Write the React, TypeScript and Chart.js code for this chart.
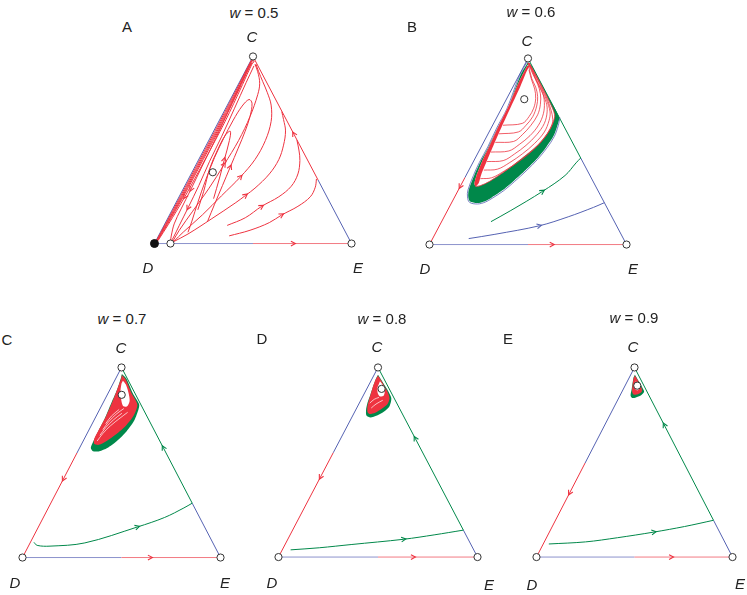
import React, { useEffect, useRef } from 'react';
import { Chart, registerables } from 'chart.js';
Chart.register(...registerables);

type P = [number, number];

const RED = '#ee3340';
const GREEN = '#00884a';
const BLUE = '#5562b2';
const BASE_BLUE_C = '#8c92cc';
const BASE_RED_C = '#f27a83';
const WHITE = '#ffffff';

// ---- text ----
const PANEL_LETTERS = ['A', 'B', 'C', 'D', 'E'];
const W_VALUES = ['0.5', '0.6', '0.7', '0.8', '0.9'];
const VERTEX_LABELS = ['C', 'D', 'E'];

// ---- shared edges (ternary plane: D=(0,0), E=(100,0), C=(50,100)) ----
const BASE_BLUE_PTS: P[] = [[0, 0], [50, 0]];
const BASE_RED_PTS: P[] = [[50, 0], [100, 0]];

// ---- Panel A (w = 0.5) ----
const A_LEFT_BLUE: P[] = [[0, 0], [50, 100]];
const A_RIGHT_RED: P[] = [[83, 34], [50, 100]];
const A_RIGHT_BLUE: P[] = [[83, 34], [100, 0]];
const A_B1: P[] = [[50, 99], [48.7, 97], [42.9, 85], [33.1, 65], [23.1, 45], [13.05, 25], [5.35, 10], [0.95, 1.5]];
const A_B2: P[] = [[50.2, 98.6], [48.85, 97], [43.35, 85], [33.7, 65], [23.7, 45], [13.6, 25], [5.7, 10], [1.1, 1.5]];
const A_B3: P[] = [[50.4, 98.2], [49.0, 97], [43.7, 85], [34.25, 65], [24.25, 45], [14.1, 25], [6.05, 10], [1.25, 1.5]];
const A_B4: P[] = [[50.6, 97.8], [49.2, 96.5], [44.1, 85], [34.8, 65], [24.8, 45], [14.6, 25], [6.4, 10], [1.45, 1.5]];
const A_B5: P[] = [[50.8, 97.4], [49.5, 96], [44.7, 85], [35.7, 65], [25.7, 45], [15.4, 25], [6.9, 10], [1.75, 1.5]];
const A_L1: P[] = [[30, 24], [33, 35], [35.5, 45], [38, 55], [38.5, 60], [36, 58], [32, 50], [28, 40], [25, 28], [22, 18]];
const A_L2: P[] = [[27, 12], [30.5, 21], [34.5, 31], [38.5, 41], [42.5, 51], [46, 60], [48.5, 68], [49.5, 75], [48, 77], [44.5, 73.5], [40, 66], [35, 56], [30.5, 46], [26, 34], [22, 22], [19, 12], [17, 6]];
const A_L3: P[] = [[49.3, 96.5], [44.6, 87], [38, 72], [31, 56], [24.5, 42], [18.5, 29], [13.5, 18.5], [10, 10.5], [8.5, 4], [8.1, 1]];
const A_L4: P[] = [[50.5, 95], [46.5, 86], [40.5, 72], [34, 57], [28, 44], [22.5, 31], [17, 19], [12.5, 9.5], [9.5, 3], [8.3, 1]];
const A_K1: P[] = [[37.9, 4.1], [48.5, 7.1], [58.3, 11.2], [64.6, 15.3], [72.8, 19.9], [79.1, 25.0], [81.6, 30.1], [82.2, 34.5]];
const A_K2: P[] = [[36.9, 9.7], [46.1, 13.8], [54.4, 19.9], [63.1, 25.0], [69.4, 30.6], [72.8, 37.2], [73.8, 44.4], [73.3, 50.0], [72.3, 55.2]];
const A_K3: P[] = [[9.7, 1.0], [17.0, 5.1], [29.1, 13.3], [41.3, 21.9], [46.3, 25.8], [51.0, 29.6], [58.3, 37.2], [63.1, 44.9], [65.5, 52.6], [66.5, 60.2], [65.5, 66.3], [64.6, 70.5]];
const A_K4: P[] = [[9.7, 1.0], [14.6, 6.1], [24.3, 15.3], [34.0, 25.5], [43.7, 35.7], [51.0, 44.9], [56.3, 55.1], [59.2, 65.3], [59.2, 74.0], [57.3, 80.6], [54.9, 86.7], [52.9, 91.8], [51.5, 95.9]];
const A_K5: P[] = [[9.2, 1.0], [12.6, 7.1], [19.4, 17.3], [27.7, 29.6], [35.4, 42.3], [42.7, 55.1], [48.5, 67.9], [52.4, 79.6], [53.4, 85.7], [52.4, 91.8], [51.0, 95.9]];
const A_OPEN: P[] = [[50, 100], [100, 0], [8.1, 0], [29.6, 38.1]];
const A_FILLED: P[] = [[0, 0]];

// ---- Panel B (w = 0.6) ----
const B_LEFT_RED: P[] = [[18, 36], [0, 0]];
const B_LEFT_BLUE: P[] = [[18, 36], [50, 100]];
const B_RIGHT_GREEN: P[] = [[50, 100], [76.75, 46.5]];
const B_RIGHT_BLUE: P[] = [[76.75, 46.5], [100, 0]];
const B_GREEN_TRAJ: P[] = [[31.2, 12.3], [41.3, 18.3], [57.4, 28.6], [68.8, 37.1], [74.4, 43.9], [76.75, 46.5]];
const B_BLUE_TRAJ: P[] = [[19.9, 3.2], [33.2, 5.5], [55.8, 10.1], [70.4, 14.9], [83.3, 20.0], [88.75, 22.5]];
const B_GREEN_BLOB: P[] = [[50.0, 97.9], [46.1, 90.8], [39.7, 73.0], [34.5, 62.6], [30.0, 52.5], [25.7, 44.1], [22.7, 37.1], [19.9, 29.2], [19.7, 25.6], [20.6, 23.1], [24.3, 22.3], [28.2, 23.3], [31.6, 25.3], [37.4, 29.4], [43.0, 34.4], [48.8, 40.0], [54.6, 46.2], [59.2, 52.3], [63.0, 58.4], [65.0, 64.3], [65.8, 68.4], [60, 80], [55, 90], [52, 96]];
const B_BLOB_EDGE: P[] = [[49.6, 98.3], [45.7, 90.8], [39.3, 73], [34.1, 62.6], [29.6, 52.5], [25.3, 44.1], [22.3, 37.1], [19.5, 29.2], [19.3, 25.6], [20.3, 22.7], [24.3, 21.8], [28.3, 22.8], [31.7, 24.8], [37.6, 28.9], [43.2, 33.9], [49.0, 39.5], [54.8, 45.7], [59.5, 51.8], [63.3, 58.0], [65.4, 64.1], [66.2, 68.2]];
const B_WHITE: P[] = [[49.5, 95.9], [45.1, 86.7], [40.3, 74.9], [35.0, 63.6], [30.6, 53.3], [26.7, 44.6], [23.8, 36.9], [22.8, 32.8], [23.4, 31.3], [25.7, 31.6], [30.6, 34.0], [36.4, 38.0], [42.7, 42.8], [49.2, 48.2], [55.3, 53.8], [59.9, 59.8], [62.6, 65.2], [63.5, 69.8], [61.0, 76.5], [57, 85], [53, 93], [50.6, 97.5]];
const B_BAND: P[] = [[49.5, 95.9], [45.1, 86.7], [40.3, 74.9], [35.0, 63.6], [30.6, 53.3], [26.7, 44.6], [23.8, 36.9], [22.8, 32.8], [23.4, 31.3], [25.0, 33.1], [26.2, 37.4], [29.0, 44.6], [32.3, 52.8], [36.6, 63.1], [41.5, 74.4], [46.0, 84.6], [49.2, 92.8], [50.8, 95.9]];
const B_S1: P[] = [[23.3, 31.3], [25.7, 31.6], [30.6, 34.0], [36.4, 38.0], [42.7, 42.8], [49.2, 48.2], [55.3, 53.8], [59.9, 59.8], [62.6, 65.2], [63.5, 69.8], [61.0, 76.5], [57, 85], [53, 93], [50.6, 97.5]];
const B_S2: P[] = [[25.8, 35.4], [31.6, 35.9], [37.9, 39.5], [44.7, 44.1], [51.5, 49.7], [57.3, 55.9], [61.2, 62.1], [62.6, 67.2], [60.2, 77], [56.3, 86], [52.6, 93.5], [50.5, 97.5]];
const B_S3: P[] = [[27.6, 40.0], [34.5, 40.5], [40.8, 44.1], [47.1, 48.7], [53.4, 54.4], [58.3, 60.5], [60.7, 66.7], [61.2, 71.3], [59.3, 78], [55.8, 86.5], [52.4, 93.5], [50.4, 97.5]];
const B_S4: P[] = [[29.2, 44.6], [37.4, 45.1], [43.2, 48.7], [49.0, 53.3], [54.4, 59.0], [58.3, 65.1], [59.7, 71.3], [59.2, 76.4], [55.3, 86], [52.2, 93.5], [50.3, 97.5]];
const B_S5: P[] = [[31.2, 49.7], [40.3, 50.3], [45.6, 53.8], [51.0, 58.5], [55.3, 64.1], [57.8, 70.3], [58.3, 76.4], [57.3, 82.1], [54.3, 88], [51.8, 94], [50.2, 97.5]];
const B_S6: P[] = [[33.4, 54.9], [42.7, 55.4], [47.1, 59.0], [51.5, 64.1], [54.9, 69.7], [56.3, 75.4], [56.3, 81.0], [54.9, 86.2], [52.5, 91.5], [50.1, 97.5]];
const B_S7: P[] = [[35.3, 59.5], [45.1, 60.5], [49.0, 64.1], [52.4, 68.7], [54.4, 74.4], [54.9, 79.5], [53.9, 84.6], [51.9, 89.2], [50.0, 97.5]];
const B_S8: P[] = [[37.3, 64.1], [47.1, 65.1], [50.5, 68.7], [52.9, 73.3], [53.9, 78.5], [53.4, 83.6], [51.9, 88.2], [50.5, 93.8]];
const B_OPEN: P[] = [[0, 0], [100, 0], [50, 100], [48.1, 78.1]];

// ---- Panel C (w = 0.7) ----
const C_LEFT_RED: P[] = [[27.5, 55], [0, 0]];
const C_LEFT_BLUE: P[] = [[27.5, 55], [50, 100]];
const C_RIGHT_GREEN: P[] = [[85.7, 28.6], [50, 100]];
const C_RIGHT_BLUE: P[] = [[85.7, 28.6], [100, 0]];
const C_GREEN_TRAJ: P[] = [[5.8, 8.0], [7.4, 6.4], [13.9, 6.0], [31.5, 7.7], [58.1, 16.1], [71.8, 21.1], [81.5, 26.1], [85.7, 28.6]];
const C_GREEN_BLOB: P[] = [[50.2, 96.5], [52.5, 94.0], [55.7, 86.4], [58.9, 80.6], [58.6, 78.0], [56.5, 72.2], [52.5, 66.3], [47.7, 61.3], [42.8, 57.6], [38.8, 55.9], [35.6, 55.9], [34.5, 57.6], [35.5, 60.5], [38.2, 66.3], [41.5, 73.0], [44.9, 81.4], [47.7, 88.1], [49.6, 94.0]];
const C_RED_BLOB: P[] = [[50.2, 96.0], [52.2, 93.5], [55.1, 86.4], [58.0, 80.4], [56.0, 74.4], [52.2, 69.3], [47.3, 64.8], [42.5, 61.3], [38.6, 59.3], [36.2, 59.8], [36.2, 62.3], [38.6, 67.3], [42.0, 73.9], [45.4, 81.9], [47.8, 88.4], [49.8, 94.0]];
const C_WHITE_IN: P[] = [[50.7, 93.0], [52.2, 91.0], [53.6, 86.4], [54.1, 82.4], [52.7, 79.4], [50.7, 79.9], [49.8, 83.4], [49.5, 87.9], [50.0, 91.5]];
const C_W1: P[] = [[37.7, 61.3], [40.6, 65.3], [44.4, 69.3], [49.3, 73.4], [53.1, 76.4]];
const C_W2: P[] = [[39.1, 64.3], [42.0, 68.3], [45.9, 72.4], [50.2, 75.9]];
const C_W3: P[] = [[40.6, 67.3], [43.5, 71.4], [47.3, 75.4], [51.2, 78.4]];
const C_W4: P[] = [[42.0, 70.4], [44.9, 74.4], [48.8, 77.9]];
const C_OPEN: P[] = [[0, 0], [100, 0], [50, 100], [50.1, 85.6]];

// ---- Panel D (w = 0.8) ----
const D_LEFT_RED: P[] = [[27.5, 55], [0, 0]];
const D_LEFT_BLUE: P[] = [[27.5, 55], [50, 100]];
const D_RIGHT_GREEN: P[] = [[92.9, 14.2], [50, 100]];
const D_RIGHT_BLUE: P[] = [[92.9, 14.2], [100, 0]];
const D_GREEN_TRAJ: P[] = [[6.1, 3.8], [20.5, 4.9], [36.5, 6.6], [63.0, 9.4], [78.2, 11.7], [92.9, 14.2]];
const D_GREEN_BLOB: P[] = [[50.0, 96.2], [52.4, 92.2], [55.3, 87.2], [56.7, 83.7], [55.8, 79.6], [52.9, 76.6], [49.5, 74.6], [46.2, 73.6], [44.2, 74.6], [44.0, 77.6], [44.7, 81.2], [46.2, 85.7], [47.6, 90.2], [49.0, 94.2]];
const D_RED_BLOB: P[] = [[50.0, 95.7], [52.4, 91.7], [54.8, 87.2], [55.8, 83.7], [54.8, 80.7], [51.9, 78.2], [48.6, 76.1], [45.7, 75.4], [44.7, 76.6], [44.7, 79.6], [45.7, 83.7], [47.1, 88.7], [48.6, 93.2]];
const D_WHITE_IN: P[] = [[51.0, 92.7], [52.4, 90.7], [53.4, 87.7], [52.9, 85.2], [51.0, 84.7], [49.8, 86.7], [49.8, 89.7]];
const D_W1: P[] = [[46.6, 78.6], [49.0, 80.7], [52.4, 82.7]];
const D_W2: P[] = [[45.9, 81.2], [48.1, 83.2], [50.5, 84.2]];
const D_OPEN: P[] = [[0, 0], [100, 0], [50, 100], [51.8, 88.7]];

// ---- Panel E (w = 0.9) ----
const E_LEFT_RED: P[] = [[24.8, 49.6], [0, 0]];
const E_LEFT_BLUE: P[] = [[24.8, 49.6], [50, 100]];
const E_RIGHT_GREEN: P[] = [[90.3, 19.4], [50, 100]];
const E_RIGHT_BLUE: P[] = [[90.3, 19.4], [100, 0]];
const E_GREEN_TRAJ: P[] = [[6.3, 6.9], [25.0, 8.0], [41.3, 10.2], [60.0, 13.2], [75.5, 16.1], [90.3, 19.4]];
const E_GREEN_BLOB: P[] = [[50.2, 96.2], [52.2, 92.7], [54.1, 89.2], [54.9, 87.2], [53.2, 85.2], [50.7, 84.2], [48.8, 83.9], [48.0, 85.2], [48.5, 88.2], [49.0, 91.7], [49.5, 94.7]];
const E_RED_BLOB: P[] = [[50.2, 95.7], [52.2, 92.2], [53.7, 88.9], [53.7, 87.2], [51.7, 85.9], [49.5, 85.7], [48.8, 87.2], [49.0, 90.7], [49.5, 94.2]];
const E_WHITE_IN: P[] = [[50.7, 92.7], [52.0, 91.2], [52.4, 89.2], [51.5, 87.9], [50.5, 88.7], [50.2, 91.2]];
const E_OPEN: P[] = [[0, 0], [100, 0], [50, 100], [51.4, 90.4]];

// ---- layout ----
type Layer = { pts: P[]; color: string; width?: number; fill?: boolean; tension?: number; arrows?: number[]; arrowColor?: string };
const mk = (pts: P[], color: string, extra: Partial<Layer> = {}): Layer => ({ pts, color, ...extra });
const poly = (pts: P[], color: string): Layer => ({ pts, color, fill: true, tension: 0.25 });

const edgeLayers = (baseArrow: number): Layer[] => [
  mk(BASE_BLUE_PTS, BASE_BLUE_C, { tension: 0 }),
  mk(BASE_RED_PTS, BASE_RED_C, { tension: 0, arrows: [baseArrow], arrowColor: RED }),
];

const PANELS = [
  {
    geom: { dx: 150, ex: 356, base: 248, top: 52 },
    letterPos: [127, 26], titlePos: [254, 12],
    labelPos: [[252, 36], [148, 267], [358, 267]],
    open: A_OPEN, filled: A_FILLED,
    layers: [
      ...edgeLayers(0.41),
      mk(A_LEFT_BLUE, BLUE, { tension: 0 }),
      mk(A_RIGHT_BLUE, BLUE, { tension: 0 }),
      mk(A_RIGHT_RED, RED, { tension: 0, arrows: [0.374] }),
      mk(A_B1, RED), mk(A_B2, RED), mk(A_B3, RED), mk(A_B4, RED), mk(A_B5, RED, { arrows: [5] }),
      mk(A_L1, RED, { arrows: [2] }), mk(A_L2, RED, { arrows: [3] }),
      mk(A_L3, RED, { arrows: [5] }), mk(A_L4, RED, { arrows: [6] }),
      mk(A_K1, RED, { arrows: [3] }), mk(A_K2, RED, { arrows: [2] }), mk(A_K3, RED, { arrows: [4] }),
      mk(A_K4, RED, { arrows: [4] }), mk(A_K5, RED, { arrows: [4] }),
    ],
  },
  {
    geom: { dx: 425, ex: 631, base: 249, top: 54 },
    letterPos: [412, 26], titlePos: [531, 11],
    labelPos: [[527, 40], [425, 268], [633, 268]],
    open: B_OPEN, filled: [] as P[],
    layers: [
      ...edgeLayers(0.246),
      mk(B_LEFT_BLUE, BLUE, { tension: 0 }),
      mk(B_LEFT_RED, RED, { tension: 0, arrows: [0.136] }),
      mk(B_RIGHT_BLUE, BLUE, { tension: 0 }),
      mk(B_RIGHT_GREEN, GREEN, { tension: 0 }),
      mk(B_BLUE_TRAJ, BLUE, { arrows: [2] }),
      mk(B_GREEN_TRAJ, GREEN, { arrows: [2] }),
      poly(B_GREEN_BLOB, GREEN),
      mk(B_BLOB_EDGE, BLUE, { width: 0.8 }),
      poly(B_WHITE, WHITE),
      poly(B_BAND, RED),
      mk(B_S1, RED, { width: 0.8 }), mk(B_S2, RED, { width: 0.8 }), mk(B_S3, RED, { width: 0.8 }),
      mk(B_S4, RED, { width: 0.8 }), mk(B_S5, RED, { width: 0.8 }), mk(B_S6, RED, { width: 0.8 }),
      mk(B_S7, RED, { width: 0.8 }), mk(B_S8, RED, { width: 0.8 }),
    ],
  },
  {
    geom: { dx: 18, ex: 225, base: 562, top: 363 },
    letterPos: [7, 339], titlePos: [122, 318],
    labelPos: [[121, 347], [15, 582], [225, 582]],
    open: C_OPEN, filled: [] as P[],
    layers: [
      ...edgeLayers(0.292),
      mk(C_LEFT_BLUE, BLUE, { tension: 0 }),
      mk(C_LEFT_RED, RED, { tension: 0, arrows: [0.25] }),
      mk(C_RIGHT_BLUE, BLUE, { tension: 0 }),
      mk(C_RIGHT_GREEN, GREEN, { tension: 0, arrows: [0.41] }),
      mk(C_GREEN_TRAJ, GREEN, { arrows: [4] }),
      poly(C_GREEN_BLOB, GREEN),
      poly(C_RED_BLOB, RED),
      poly(C_WHITE_IN, WHITE),
      mk(C_W1, WHITE, { width: 0.7 }), mk(C_W2, WHITE, { width: 0.7 }),
      mk(C_W3, WHITE, { width: 0.7 }), mk(C_W4, WHITE, { width: 0.7 }),
    ],
  },
  {
    geom: { dx: 274, ex: 482, base: 561.5, top: 363 },
    letterPos: [262, 338], titlePos: [382, 318],
    labelPos: [[377, 346], [272, 582], [489, 584]],
    open: D_OPEN, filled: [] as P[],
    layers: [
      ...edgeLayers(0.356),
      mk(D_LEFT_BLUE, BLUE, { tension: 0 }),
      mk(D_LEFT_RED, RED, { tension: 0, arrows: [0.236] }),
      mk(D_RIGHT_BLUE, BLUE, { tension: 0 }),
      mk(D_RIGHT_GREEN, GREEN, { tension: 0, arrows: [0.565] }),
      mk(D_GREEN_TRAJ, GREEN, { arrows: [3] }),
      poly(D_GREEN_BLOB, GREEN),
      poly(D_RED_BLOB, RED),
      poly(D_WHITE_IN, WHITE),
      mk(D_W1, WHITE, { width: 0.7 }), mk(D_W2, WHITE, { width: 0.7 }),
    ],
  },
  {
    geom: { dx: 532, ex: 737, base: 561.5, top: 363 },
    letterPos: [508, 338], titlePos: [634, 317],
    labelPos: [[633, 346], [532, 584], [740, 583]],
    open: E_OPEN, filled: [] as P[],
    layers: [
      ...edgeLayers(0.378),
      mk(E_LEFT_BLUE, BLUE, { tension: 0 }),
      mk(E_LEFT_RED, RED, { tension: 0, arrows: [0.32] }),
      mk(E_RIGHT_BLUE, BLUE, { tension: 0 }),
      mk(E_RIGHT_GREEN, GREEN, { tension: 0, arrows: [0.624] }),
      mk(E_GREEN_TRAJ, GREEN, { arrows: [3] }),
      poly(E_GREEN_BLOB, GREEN),
      poly(E_RED_BLOB, RED),
      poly(E_WHITE_IN, WHITE),
    ],
  },
];

const arrowPlugin = {
  id: 'trajArrows',
  afterDatasetsDraw(chart: any) {
    const ctx = chart.ctx;
    chart.data.datasets.forEach((ds: any, di: number) => {
      if (!ds.arrows) return;
      const pts = chart.getDatasetMeta(di).data;
      ds.arrows.forEach((f: number) => {
        const i = Math.floor(f);
        const t = f - i;
        const a = pts[i];
        const b = pts[Math.min(i + 1, pts.length - 1)];
        const x = a.x + (b.x - a.x) * t;
        const y = a.y + (b.y - a.y) * t;
        let dx = b.x - a.x, dy = b.y - a.y;
        if (t === 0 && i > 0 && i < pts.length - 1) {
          dx = pts[i + 1].x - pts[i - 1].x;
          dy = pts[i + 1].y - pts[i - 1].y;
        }
        const len = Math.hypot(dx, dy) || 1;
        const ux = dx / len, uy = dy / len;
        const tx = x + ux * 2, ty = y + uy * 2;
        ctx.save();
        ctx.strokeStyle = ds.arrowColor;
        ctx.lineWidth = 1.1;
        ctx.beginPath();
        ctx.moveTo(tx - ux * 4.5 - uy * 2.4, ty - uy * 4.5 + ux * 2.4);
        ctx.lineTo(tx, ty);
        ctx.lineTo(tx - ux * 4.5 + uy * 2.4, ty - uy * 4.5 - ux * 2.4);
        ctx.stroke();
        ctx.restore();
      });
    });
  },
};

const M = 12;

function Panel({ panel }: { panel: (typeof PANELS)[number] }) {
  const ref = useRef<HTMLCanvasElement | null>(null);
  const g = panel.geom;
  const W = g.ex - g.dx;
  const H = g.base - g.top;
  const left = Math.floor(g.dx - M);
  const top = Math.floor(g.top - M);
  const width = Math.ceil(g.ex + M) - left;
  const height = Math.ceil(g.base + M) - top;

  useEffect(() => {
    const xmin = -((g.dx - left) / W) * 100;
    const xmax = xmin + (width / W) * 100;
    const ymax = 100 + ((g.top - top) / H) * 100;
    const ymin = ymax - (height / H) * 100;
    const n = panel.layers.length;
    const datasets: any[] = panel.layers.map((l, i) => ({
      data: l.pts.map(([x, y]) => ({ x, y })),
      borderColor: l.fill ? 'rgba(0,0,0,0)' : l.color,
      borderWidth: l.width ?? 1,
      backgroundColor: l.fill ? l.color : 'rgba(0,0,0,0)',
      fill: l.fill ? 'shape' : false,
      tension: l.tension ?? 0.35,
      pointRadius: 0,
      pointHoverRadius: 0,
      order: -i,
      arrows: l.arrows,
      arrowColor: l.arrowColor ?? l.color,
    }));
    datasets.push({
      data: panel.open.map(([x, y]) => ({ x, y })),
      showLine: false,
      pointRadius: 3.6,
      pointBackgroundColor: '#ffffff',
      pointBorderColor: '#333333',
      pointBorderWidth: 1,
      order: -n - 1,
    });
    datasets.push({
      data: panel.filled.map(([x, y]) => ({ x, y })),
      showLine: false,
      pointRadius: 4,
      pointBackgroundColor: '#111111',
      pointBorderColor: '#111111',
      pointBorderWidth: 1,
      order: -n - 2,
    });
    const chart = new Chart(ref.current as HTMLCanvasElement, {
      type: 'line',
      data: { datasets },
      options: {
        animation: false,
        responsive: false,
        maintainAspectRatio: false,
        events: [],
        layout: { padding: 0 },
        elements: { line: { capBezierPoints: false } },
        scales: {
          x: { type: 'linear', min: xmin, max: xmax, display: false, bounds: 'data' },
          y: { type: 'linear', min: ymin, max: ymax, display: false, bounds: 'data' },
        },
        plugins: { legend: { display: false }, tooltip: { enabled: false }, title: { display: false } },
      } as any,
      plugins: [arrowPlugin],
    });
    return () => chart.destroy();
  }, []);

  return (
    <canvas
      ref={ref}
      width={width}
      height={height}
      style={{ position: 'absolute', left, top, width, height }}
    />
  );
}

const FONT = '"Liberation Sans", Arial, Helvetica, sans-serif';

function Txt({ x, y, children, italic, size }: { x: number; y: number; children: React.ReactNode; italic?: boolean; size?: number }) {
  return (
    <span
      style={{
        position: 'absolute',
        left: x,
        top: y,
        transform: 'translate(-50%, -50%)',
        fontFamily: FONT,
        fontSize: size ?? 15,
        fontStyle: italic ? 'italic' : 'normal',
        color: '#222',
        whiteSpace: 'nowrap',
        lineHeight: 1,
      }}
    >
      {children}
    </span>
  );
}

export default function App() {
  return (
    <div style={{ position: 'fixed', left: 0, top: 0, width: 747, height: 595, overflow: 'hidden', background: '#fff' }}>
      {PANELS.map((p, i) => (
        <Panel key={i} panel={p} />
      ))}
      {PANELS.map((p, i) => (
        <React.Fragment key={'t' + i}>
          <Txt x={p.letterPos[0]} y={p.letterPos[1]} size={15}>{PANEL_LETTERS[i]}</Txt>
          <Txt x={p.titlePos[0]} y={p.titlePos[1]} size={15}>
            <i>w</i> = {W_VALUES[i]}
          </Txt>
          {VERTEX_LABELS.map((lab, j) => (
            <Txt key={j} x={p.labelPos[j][0]} y={p.labelPos[j][1]} italic size={15}>{lab}</Txt>
          ))}
        </React.Fragment>
      ))}
    </div>
  );
}
